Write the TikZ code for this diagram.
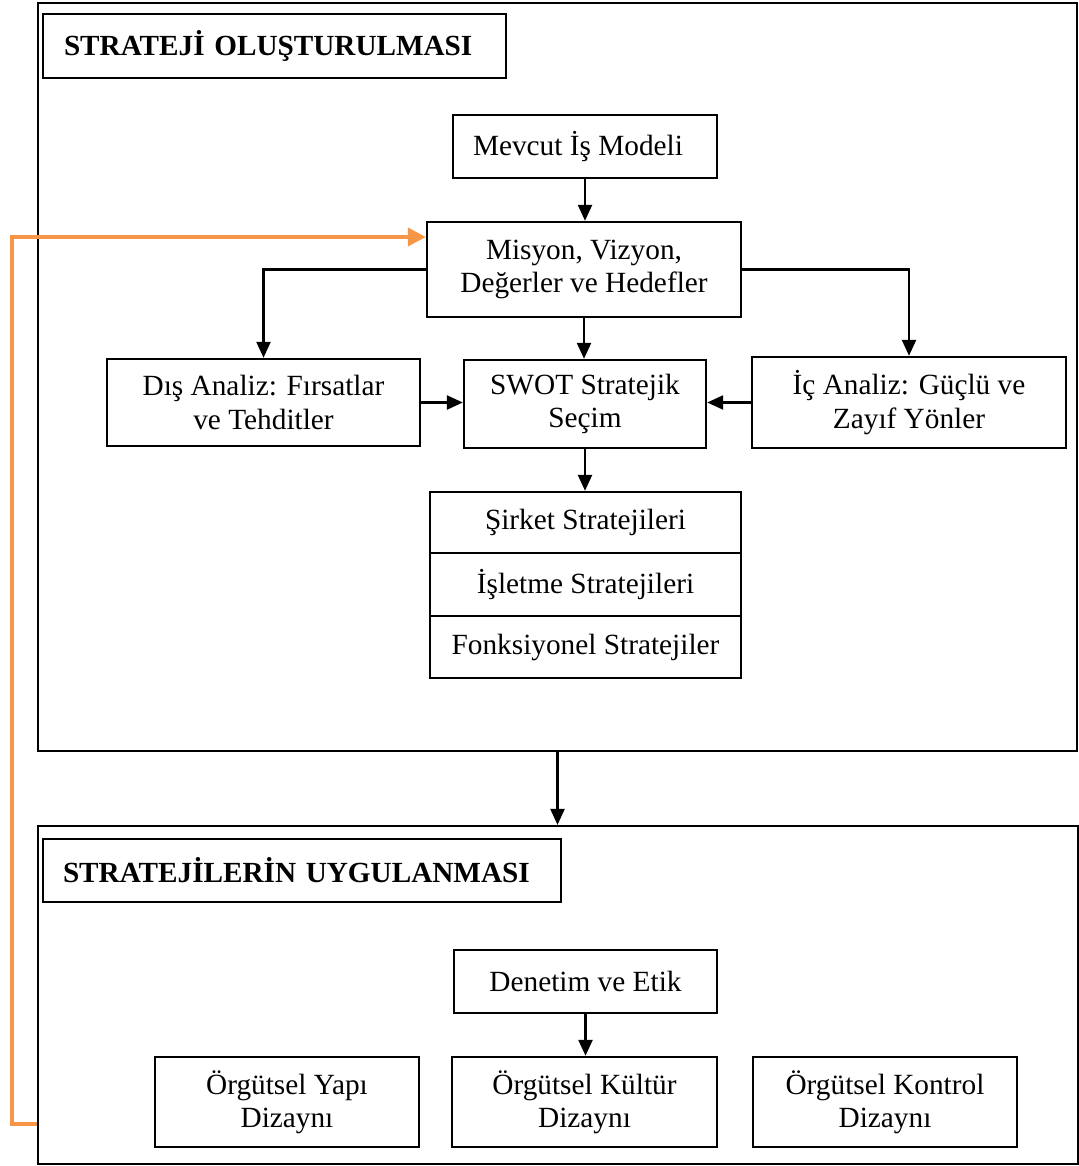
\documentclass[tikz,border=0pt]{standalone}
\usepackage{fontspec}
\setmainfont{Liberation Serif}
\usetikzlibrary{arrows.meta,calc}
\definecolor{orangeline}{RGB}{247,150,70}
\begin{document}
\begin{tikzpicture}[x=0.5pt,y=-0.5pt,
  every node/.style={font=\fontsize{14.65}{16.6}\selectfont},
  box/.style={draw=black,line width=1.2pt,inner sep=0pt,align=center,fill=white},
  frame/.style={draw=black,line width=1.1pt,inner sep=0pt},
  titlebox/.style={draw=black,line width=1.2pt,align=left,font=\fontsize{14.6}{16.6}\selectfont\bfseries},
  arr/.style={line width=1.2pt,-{Triangle[length=8pt,width=7pt]}},
  feedback/.style={draw=orangeline,line width=2pt,-{Triangle[length=9pt,width=9pt]}}
]
\useasboundingbox (0,0) rectangle (1079,1166);
% outer frames
\node[frame,minimum width=519.5pt,minimum height=374pt] (outer1) at (557.5,377) {};
\node[frame,minimum width=520pt,minimum height=169pt] (outer2) at (558,995) {};
% titles
\node[titlebox,minimum height=32pt,inner xsep=10.5pt,text width=210.5pt] (title1) at (274.5,46) {STRATEJİ OLUŞTURULMASI};
\node[titlebox,minimum height=31.5pt,inner xsep=10pt,text width=239pt] (title2) at (302,870.5) {STRATEJİLERİN UYGULANMASI};
% upper part
\node[box,minimum width=132pt,minimum height=31.5pt] (mevcut) at (585,146.5) {Mevcut İş Modeli\hspace*{7pt}};
\node[box,minimum width=157pt,minimum height=47.5pt] (misyon) at (584,269.5) {Misyon, Vizyon,\\Değerler ve Hedefler};
\node[box,minimum width=156.5pt,minimum height=43.5pt] (dis) at (263.5,402.5) {Dış Analiz: Fırsatlar\\ve Tehditler};
\node[box,minimum width=121pt,minimum height=44pt] (swot) at (585,404) {SWOT Stratejik\\Seçim};
\node[box,minimum width=157pt,minimum height=45.5pt] (ic) at (909,402.5) {İç Analiz: Güçlü ve\\Zayıf Yönler};
\node[box,minimum width=155.5pt,minimum height=30.5pt] (sirket) at (585.5,522.5) {Şirket Stratejileri};
\node[box,minimum width=155.5pt,minimum height=31.5pt] (isletme) at (585.5,584.5) {İşletme Stratejileri};
\node[box,minimum width=155.5pt,minimum height=31pt] (fonk) at (585.5,647) {Fonksiyonel Stratejiler};
% lower part
\node[box,minimum width=131.5pt,minimum height=31.5pt] (denetim) at (585.5,981.5) {Denetim ve Etik};
\node[box,minimum width=132pt,minimum height=45pt] (orgA) at (287,1102) {Örgütsel Yapı\\Dizaynı};
\node[box,minimum width=132.5pt,minimum height=45pt] (orgB) at (584.5,1102) {Örgütsel Kültür\\Dizaynı};
\node[box,minimum width=132pt,minimum height=45pt] (orgC) at (885,1102) {Örgütsel Kontrol\\Dizaynı};
% connectors
\draw[arr] (mevcut.south) -- (mevcut.south |- misyon.north);
\draw[arr] (misyon.south) -- (misyon.south |- swot.north);
\draw[arr] (misyon.west) -| (dis.north);
\draw[arr] (misyon.east) -| (ic.north);
\draw[arr] (dis.east) -- (dis.east -| swot.west);
\draw[arr] (ic.west) -- (ic.west -| swot.east);
\draw[arr] (swot.south) -- (swot.south |- sirket.north);
\draw[arr] (outer1.south) -- (outer1.south |- outer2.north);
\draw[arr] (denetim.south) -- (denetim.south |- orgB.north);
% feedback loop
\coordinate (fbstart) at (outer2.west |- 0,1124);
\coordinate (fbcorner) at (12,1124);
\coordinate (fbtop) at (12,237);
\draw[feedback] (fbstart) -- (fbcorner) -- (fbtop) -- (fbtop -| misyon.west);
\end{tikzpicture}
\end{document}
